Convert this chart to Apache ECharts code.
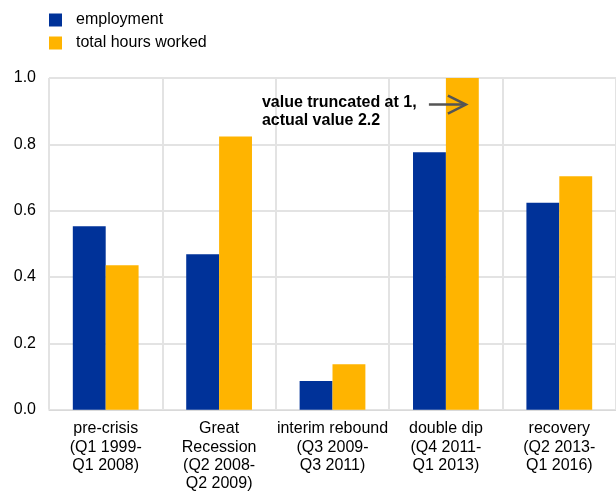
<!DOCTYPE html>
<html><head><meta charset="utf-8">
<script src="https://cdn.jsdelivr.net/npm/echarts@6/dist/echarts.min.js"></script>
<style>html,body{margin:0;padding:0;background:#fff}#c{width:616px;height:493px}</style>
</head><body><div id="c"></div>
<script>
const categories = ['pre-crisis\n(Q1 1999-\nQ1 2008)', 'Great\nRecession\n(Q2 2008-\nQ2 2009)', 'interim rebound\n(Q3 2009-\nQ3 2011)', 'double dip\n(Q4 2011-\nQ1 2013)', 'recovery\n(Q2 2013-\nQ1 2016)'];
const employment = [0.553, 0.469, 0.087, 0.776, 0.624];
const hoursWorked = [0.436, 0.824, 0.137, 1.0, 0.704];
const yTicks = [0, 0.2, 0.4, 0.6, 0.8, 1.0];
const annotationLines = ['value truncated at 1,', 'actual value 2.2'];
const annotationAt = { category: 3, value: 0.92 };

const font = 'Liberation Sans, Arial, sans-serif';
const chart = echarts.init(document.getElementById('c'), null, { renderer: 'canvas' });
chart.setOption({
  animation: false,
  textStyle: { fontFamily: font },
  legend: {
    orient: 'vertical', left: 49, top: 12, padding: 0, itemWidth: 13, itemHeight: 13, itemGap: 7,
    icon: 'rect',
    textStyle: { fontSize: 16, color: '#000', fontFamily: font, padding: [0, 0, 0, 9] },
    data: ['employment', 'total hours worked']
  },
  grid: { left: 49, right: 0, top: 78, bottom: 81, containLabel: false },
  xAxis: {
    type: 'category', data: categories,
    axisLine: { lineStyle: { color: '#d9d9d9', width: 1 } },
    axisTick: { show: false },
    splitLine: { show: true, lineStyle: { color: '#e3e3e3', width: 2 } },
    axisLabel: { fontSize: 16, color: '#000', lineHeight: 18.3, margin: 10, interval: 0, fontFamily: font }
  },
  yAxis: {
    type: 'value', min: yTicks[0], max: yTicks[yTicks.length - 1], interval: 0.2,
    axisLine: { show: false }, axisTick: { show: false },
    splitLine: { lineStyle: { color: '#e3e3e3', width: 2 } },
    axisLabel: { fontSize: 16, color: '#000', margin: 13, formatter: v => v.toFixed(1), fontFamily: font }
  },
  series: [
    { name: 'employment', type: 'bar', data: employment, barGap: '0%', barCategoryGap: '42%',
      itemStyle: { color: '#003299' } },
    { name: 'total hours worked', type: 'bar', data: hoursWorked, barGap: '0%', barCategoryGap: '42%',
      itemStyle: { color: '#FFB400' } }
  ]
});

const p = chart.convertToPixel({ gridIndex: 0 }, [annotationAt.category, annotationAt.value]);
const cx = p[0], cy = p[1];
chart.setOption({
  graphic: [
    { type: 'text', left: cx - 184, top: cy - 11, z: 100,
      style: { text: annotationLines.join('\n'), font: 'bold 16px ' + font, fill: '#000', lineHeight: 18 } },
    { type: 'polyline', z: 100, shape: { points: [[cx - 17, cy], [cx + 20, cy]] },
      style: { stroke: '#555', lineWidth: 2.5 } },
    { type: 'polyline', z: 100, shape: { points: [[cx + 2, cy - 9], [cx + 20, cy], [cx + 2, cy + 9]] },
      style: { stroke: '#555', lineWidth: 2.5, fill: null } }
  ]
});
</script></body></html>
